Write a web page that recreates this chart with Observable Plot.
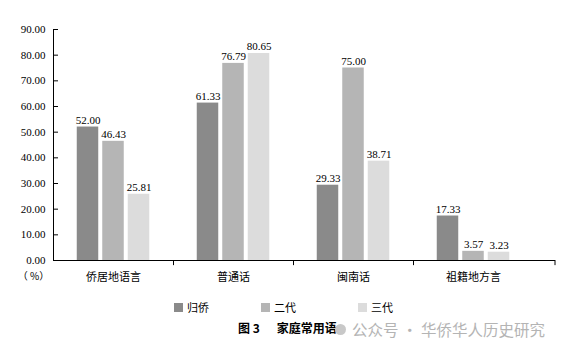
<!DOCTYPE html>
<html><head><meta charset="utf-8">
<script src="https://cdn.jsdelivr.net/npm/d3@7"></script>
<script src="https://cdn.jsdelivr.net/npm/@observablehq/plot@0.6"></script>
<style>
body{margin:0;background:#fff;}
#wrap{position:relative;width:569px;height:352px;overflow:hidden;}
#legend{position:absolute;top:300px;left:0;width:569px;height:14px;font-family:"Noto Sans CJK SC";font-size:11px;color:#000;}
.item{position:absolute;top:0;display:flex;align-items:center;height:14px;}
.sw{width:9px;height:9px;margin-right:4px;}
#caption{position:absolute;top:319px;left:238px;font-family:"Noto Sans CJK SC";font-size:12px;font-weight:bold;color:#000;white-space:nowrap;}
#wm{position:absolute;top:318px;left:335px;font-family:"Noto Sans CJK SC";font-size:15.5px;color:#b4b4b4;white-space:nowrap;display:flex;align-items:center;}
#wm .dot{width:11px;height:11px;border-radius:50%;background:#c8c8c8;margin-right:6px;}
</style></head>
<body>
<div id="wrap">
<div id="chart"></div>
<div id="legend"></div>
<div id="caption"><span>图 3</span><span style="margin-left:17px">家庭常用语</span></div>
<div id="wm"><span class="dot"></span><span>公众号 · 华侨华人历史研究</span></div>
</div>
<script>
const categories = ["侨居地语言", "普通话", "闽南话", "祖籍地方言"];
const series = ["归侨", "二代", "三代"];
const returned = [52.00, 61.33, 29.33, 17.33];
const second = [46.43, 76.79, 75.00, 3.57];
const third = [25.81, 80.65, 38.71, 3.23];
const seriesValues = [returned, second, third];
const colors = ["#8a8a8a", "#b5b5b5", "#dcdcdc"];
const yTicks = [0, 10, 20, 30, 40, 50, 60, 70, 80, 90];
const unitLabel = "（ %）";

const data = categories.flatMap((c, i) => series.map((s, j) => ({category: c, series: s, value: seriesValues[j][i]})));

const numFont = "Liberation Serif, Times New Roman, serif";
const cjkFont = "Noto Sans CJK SC";
const marks = [];
series.forEach((s, j) => {
  const d = data.filter(r => r.series === s);
  marks.push(Plot.barY(d, {x: "category", y: "value", fill: colors[j], dx: (j - 1) * 25.5, insetLeft: 49.25, insetRight: 49.25}));
  marks.push(Plot.text(d, {x: "category", y: "value", text: r => d3.format(".2f")(r.value), dx: (j - 1) * 25.5, dy: -3, lineAnchor: "bottom", fontFamily: numFont, fontSize: 11, fill: "#000"}));
});

const chart = Plot.plot({
  width: 569,
  height: 292,
  marginTop: 29,
  marginBottom: 32,
  marginLeft: 53,
  marginRight: 14,
  x: {domain: categories, range: [53, 533], padding: 0},
  y: {domain: [0, 90]},
  style: {background: "#fff", color: "#000"},
  marks: [
    ...marks,
    Plot.frame({anchor: "left", stroke: "#000"}),
    Plot.ruleY([0], {stroke: "#000"}),
    Plot.ruleX(categories.slice(1), {x: d => d, y1: 0, y2: -2, dx: -60, stroke: "#000"}),
    Plot.ruleX([categories[categories.length - 1]], {x: d => d, y1: 0, y2: -2, dx: 81.5, stroke: "#000"}),
    Plot.axisY(yTicks, {tickSize: 5, dx: 5, tickFormat: () => "", label: null, stroke: "#000"}),
    Plot.axisY(yTicks, {tickSize: 0, tickPadding: 8, tickFormat: d3.format(".2f"), label: null, fontFamily: numFont, fontSize: 11, fill: "#000"}),
    Plot.axisX({tickSize: 0, tickPadding: 13, label: null, fontFamily: cjkFont, fontSize: 11, fill: "#000"}),
    Plot.text([unitLabel], {frameAnchor: "bottom-left", dx: -20, dy: 16, lineAnchor: "middle", textAnchor: "middle", fontFamily: cjkFont, fontSize: 10, fill: "#000"})
  ]
});
document.getElementById("chart").appendChild(chart);

const legendLeft = [174, 261, 358];
const legend = document.getElementById("legend");
series.forEach((s, j) => {
  const item = document.createElement("div");
  item.className = "item";
  item.style.left = legendLeft[j] + "px";
  item.innerHTML = `<span class="sw" style="background:${colors[j]}"></span><span>${s}</span>`;
  legend.appendChild(item);
});
</script>
</body></html>
